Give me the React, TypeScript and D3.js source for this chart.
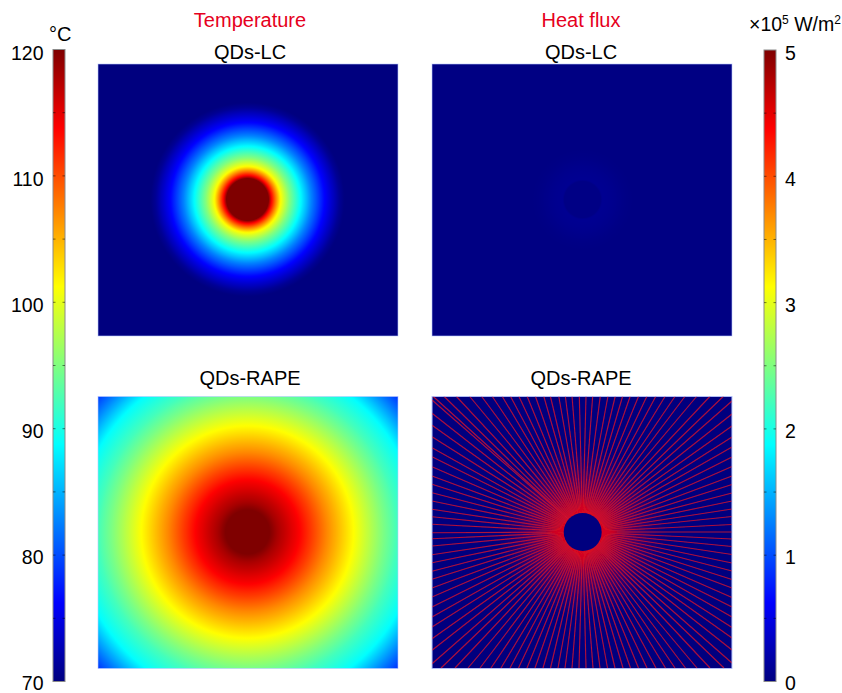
import React from "react";
import * as d3 from "d3";

// Temperature radial profiles: radius (px-like sample units) and temperature in °C
const lcRadius = [0, 21, 22, 24, 28, 33, 42, 53, 64, 77, 92, 97, 210];
const lcTemp = [120, 120, 118, 113.8, 108, 101.3, 95, 88.8, 82.5, 76.3, 71, 70, 70];
const rapeRadius = [0, 22, 30, 52, 80, 106, 135, 150, 170, 190, 205, 220];
const rapeTemp = [120, 120, 118, 113.8, 107, 101.3, 95, 92, 88.8, 82.5, 78, 75];
// Heat flux radial profile, QDs-LC, ×10^5 W/m²
const lcFluxRadius = [0, 18.5, 19.5, 26, 34, 42, 50, 210];
const lcFlux = [0.03, 0.03, 0.09, 0.08, 0.06, 0.035, 0.02, 0.02];
// QDs-RAPE heat flux: where each streamline leaves the sample (offsets from centre)
const topExit = [-149.3, -138.3, -126, -112.7, -100.7, -90, -80, -71.7, -63.3, -55, -46.7, -38.3, -31.7, -23.3, -16.7, -10, -2.7, 4, 10.7, 18.3, 26, 33.3, 40.7, 48.3, 56.7, 65, 74, 83.3, 93.3, 103.3, 115, 128.3, 141.7];
const bottomExit = [-141, -127, -114, -102, -91, -81, -72, -63.5, -55, -47, -39, -31.5, -24, -17, -10, -3, 4, 11, 18, 25.5, 33, 41, 48.5, 56.5, 65, 74, 83.5, 93, 103.5, 115, 128, 142];
const leftExit = [132, 118.7, 106.7, 95.3, 84.3, 75.3, 65.3, 56, 47.7, 39.3, 31, 22.7, 15.3, 7.7, -0.7, -6.7, -14, -22.7, -30.7, -39.3, -47.3, -56, -65, -75, -85, -95, -106.7, -118.3, -131.7];
const rightExit = [131, 118, 106, 95, 85, 75, 65.5, 56, 47.5, 39, 31, 23, 15.5, 7.5, 0, -7, -14.5, -22.5, -31, -39, -47.5, -56, -65.5, -75, -85, -95.5, -106, -118, -131];
const cuspAngles = [0, 90, 180, 270];
// Colour bars
const tempTicks = [70, 80, 90, 100, 110, 120];
const tempMinor = [75, 80, 85, 90, 95, 100, 105, 110, 115];
const fluxTicks = [0, 1, 2, 3, 4, 5];
const fluxMinor = [0.5, 1, 1.5, 2, 2.5, 3, 3.5, 4, 4.5];
const jetStops = [0, 0.125, 0.375, 0.625, 0.875, 1];
const jetColors = ["#00007f", "#0000ff", "#00ffff", "#ffff00", "#ff0000", "#7f0000"];

const jet = d3.scaleLinear<string>().domain(jetStops).range(jetColors).interpolate(d3.interpolateRgb).clamp(true);
const tempNorm = d3.scaleLinear().domain([70, 120]).range([0, 1]);
const fluxNorm = d3.scaleLinear().domain([0, 5]).range([0, 1]);

const FONT = "'Liberation Sans', Arial, sans-serif";
const RED = "#e60020";
const panelW = 300;
const panelH = 272;
const col = [98, 432];
const row = [64, 396.5];
const cx = (c: number) => col[c] + 150.5;
const cy = (r: number) => row[r] + 135.5;

function RadialStops({ radii, values, norm }: { radii: number[]; values: number[]; norm: (v: number) => number }) {
  const p = d3.scaleLinear().domain(radii).range(values);
  const max = radii[radii.length - 1];
  const stops: number[] = [];
  for (let i = 0; i <= 220; i++) stops.push((i / 220) * max);
  return (
    <>
      {stops.map((r) => (
        <stop key={r} offset={r / max} stopColor={jet(norm(p(r)))} />
      ))}
    </>
  );
}

function Panel({ c, r, fill }: { c: number; r: number; fill: string }) {
  return (
    <rect
      x={col[c]}
      y={row[r]}
      width={panelW}
      height={panelH}
      fill={fill}
      stroke="#b8c8ff"
      strokeOpacity={0.75}
      strokeWidth={0.8}
    />
  );
}

function ColorBar({ x, y0, y1, minor, toY }: { x: number; y0: number; y1: number; minor: number[]; toY: (v: number) => number }) {
  const w = 12;
  return (
    <g>
      <rect x={x} y={y0} width={w} height={y1 - y0} fill="url(#jetbar)" stroke="#8a8a8a" strokeWidth={1} />
      {minor.map((v) => (
        <g key={v} stroke="#000" strokeOpacity={0.7} strokeWidth={0.7}>
          <line x1={x} x2={x + 2.5} y1={toY(v)} y2={toY(v)} />
          <line x1={x + w - 2.5} x2={x + w} y1={toY(v)} y2={toY(v)} />
        </g>
      ))}
    </g>
  );
}

export default function App() {
  const tempBar = d3.scaleLinear().domain([70, 120]).range([681.5, 49.5]);
  const fluxBar = d3.scaleLinear().domain([0, 5]).range([681.5, 50]);
  const tempLabel = d3.scaleLinear().domain([70, 120]).range([683, 53]);
  const fluxLabel = d3.scaleLinear().domain([0, 5]).range([683, 53]);

  const sx = d3.scaleLinear().domain([-150, 150]).range([432, 732]);
  const sy = d3.scaleLinear().domain([-136, 136]).range([668, 396]);
  const line = d3.line<[number, number]>().x((d) => sx(d[0])).y((d) => sy(d[1]));
  const exits: [number, number][] = [
    ...topExit.map((x) => [x, 136] as [number, number]),
    ...bottomExit.map((x) => [x, -136] as [number, number]),
    ...leftExit.map((y) => [-150, y] as [number, number]),
    ...rightExit.map((y) => [150, y] as [number, number]),
  ];
  const cusp = d3.line().curve(d3.curveLinearClosed)([
    [0, -36],
    [-1.5, -28],
    [-5, -23],
    [-13, -16],
    [13, -16],
    [5, -23],
    [1.5, -28],
  ]) ?? "";

  return (
    <svg width={842} height={693} style={{ position: "absolute", left: 0, top: 0, background: "#fff" }} fontFamily={FONT}>
      <defs>
        <linearGradient id="jetbar" x1="0" y1="1" x2="0" y2="0">
          {jetStops.map((s, i) => (
            <stop key={s} offset={s} stopColor={jetColors[i]} />
          ))}
        </linearGradient>
        <radialGradient id="tLC" gradientUnits="userSpaceOnUse" cx={cx(0) - 1} cy={cy(0)} r={210}>
          <RadialStops radii={lcRadius} values={lcTemp} norm={tempNorm} />
        </radialGradient>
        <radialGradient id="tRAPE" gradientUnits="userSpaceOnUse" cx={cx(0) - 1} cy={cy(1)} r={220}>
          <RadialStops radii={rapeRadius} values={rapeTemp} norm={tempNorm} />
        </radialGradient>
        <radialGradient id="qLC" gradientUnits="userSpaceOnUse" cx={cx(1)} cy={cy(0)} r={210}>
          <RadialStops radii={lcFluxRadius} values={lcFlux} norm={fluxNorm} />
        </radialGradient>
        <radialGradient id="qGlow" gradientUnits="userSpaceOnUse" cx={sx(0.7)} cy={sy(0)} r={85}>
          <stop offset={0.2} stopColor="#e00018" stopOpacity={0.95} />
          <stop offset={0.33} stopColor="#c80020" stopOpacity={0.82} />
          <stop offset={0.55} stopColor="#980048" stopOpacity={0.58} />
          <stop offset={0.8} stopColor="#800058" stopOpacity={0.22} />
          <stop offset={1} stopColor="#800058" stopOpacity={0} />
        </radialGradient>
        <clipPath id="qClip">
          <rect x={432} y={396.5} width={300} height={272} />
        </clipPath>
        <filter id="soft" x="-5%" y="-5%" width="110%" height="110%">
          <feGaussianBlur stdDeviation={0.35} />
        </filter>
      </defs>

      <text x={250} y={27} textAnchor="middle" fontSize={20} fill={RED}>Temperature</text>
      <text x={581} y={27} textAnchor="middle" fontSize={20} fill={RED}>Heat flux</text>
      <text x={250} y={59} textAnchor="middle" fontSize={20}>QDs-LC</text>
      <text x={581} y={59} textAnchor="middle" fontSize={20}>QDs-LC</text>
      <text x={250} y={385} textAnchor="middle" fontSize={20}>QDs-RAPE</text>
      <text x={581} y={385} textAnchor="middle" fontSize={20}>QDs-RAPE</text>

      <Panel c={0} r={0} fill="url(#tLC)" />
      <Panel c={1} r={0} fill="url(#qLC)" />
      <Panel c={0} r={1} fill="url(#tRAPE)" />
      <Panel c={1} r={1} fill="#00007f" />

      <g clipPath="url(#qClip)">
        <rect x={432} y={396.5} width={300} height={272} fill="url(#qGlow)" />
        <g filter="url(#soft)">
          <g fill="none" stroke="#cc1430" strokeWidth={1.15} strokeOpacity={0.85}>
            {exits.map((e, i) => (
              <path key={i} d={line([[0.7, 0], e]) ?? ""} />
            ))}
          </g>
          {cuspAngles.map((a) => (
            <path
              key={a}
              d={cusp}
              fill="#e00018"
              fillOpacity={0.5}
              transform={`translate(${sx(0.7)},${sy(0)}) rotate(${a})`}
            />
          ))}
        </g>
        <circle cx={sx(0.7)} cy={sy(0)} r={19} fill="#00007f" />
      </g>
      <rect x={432} y={396.5} width={300} height={272} fill="none" stroke="#b8c8ff" strokeOpacity={0.75} strokeWidth={0.8} />

      <ColorBar x={53} y0={49.5} y1={681.5} minor={tempMinor} toY={tempBar} />
      <ColorBar x={764} y0={50} y1={681.5} minor={fluxMinor} toY={fluxBar} />

      <g fontSize={19.5} textAnchor="end" dominantBaseline="central">
        {tempTicks.map((t) => (
          <text key={t} x={43.5} y={tempLabel(t)}>{t}</text>
        ))}
      </g>
      <g fontSize={19.5} dominantBaseline="central">
        {fluxTicks.map((t) => (
          <text key={t} x={785} y={fluxLabel(t)}>{t}</text>
        ))}
      </g>

      <text x={49} y={41} fontSize={20}>°C</text>
      <text x={749} y={31} fontSize={19.5}>
        ×10<tspan fontSize={12} dy={-7}>5</tspan>
        <tspan dy={7}> W/m</tspan>
        <tspan fontSize={12} dy={-7}>2</tspan>
      </text>
    </svg>
  );
}
